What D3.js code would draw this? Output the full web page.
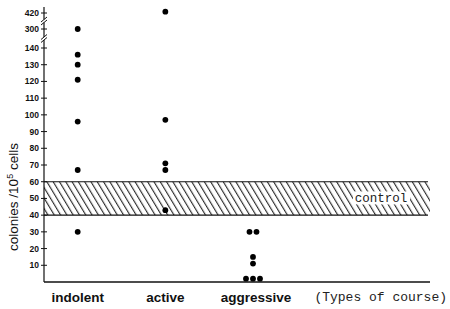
<!DOCTYPE html>
<html>
<head>
<meta charset="utf-8">
<script src="https://cdn.jsdelivr.net/npm/d3@7"></script>
<style>
  html, body { margin: 0; padding: 0; background: #fff; }
  svg { display: block; }
</style>
</head>
<body>
<svg id="chart" width="450" height="309"></svg>
<script>
// ---- data ----
const categories = ["indolent", "active", "aggressive"];
const indolentValues = [300, 136, 130, 121, 96, 67, 30];
const activeValues = [430, 97, 71, 67, 43];
const aggressiveValues = [30, 30, 15, 11, 2, 2, 2];
const tickValues = [10, 20, 30, 40, 50, 60, 70, 80, 90, 100, 110, 120, 130, 140, 300, 420];
const breakValues = [220, 360];
const controlRange = [40, 60];
const controlLabel = "control";
const yAxisLabel = "colonies /10";
const xAxisTitle = "(Types of course)";

const seriesByCategory = {
  indolent: indolentValues,
  active: activeValues,
  aggressive: aggressiveValues
};

// ---- layout ----
const svg = d3.select("#chart");
const axisX = 44, rightX = 430;
const y = d3.scaleLinear().domain([0, 140, 300, 420]).range([282, 48, 29, 13]);
const x = d3.scalePoint().domain(categories).range([77.7, 253]);

// hatch pattern
const defs = svg.append("defs");
const pat = defs.append("pattern")
  .attr("id", "hatch").attr("patternUnits", "userSpaceOnUse")
  .attr("width", 5.4).attr("height", 6)
  .attr("patternTransform", "rotate(-31)");
pat.append("line").attr("x1", 0.6).attr("y1", 0).attr("x2", 0.6).attr("y2", 6)
  .attr("stroke", "#1a1a1a").attr("stroke-width", 1.05);

// control band
svg.append("rect")
  .attr("x", axisX).attr("y", y(controlRange[1]))
  .attr("width", rightX - axisX).attr("height", y(controlRange[0]) - y(controlRange[1]))
  .attr("fill", "url(#hatch)");
controlRange.forEach(v => {
  svg.append("line").attr("x1", axisX).attr("x2", rightX - 2)
    .attr("y1", y(v)).attr("y2", y(v))
    .attr("stroke", "#111").attr("stroke-width", 1.1);
});
// control label
const cy = y(d3.mean(controlRange));
svg.append("rect").attr("x", 353).attr("y", cy - 7).attr("width", 57).attr("height", 13).attr("fill", "#fff");
svg.append("text").attr("x", 381).attr("y", cy + 3.5)
  .attr("text-anchor", "middle")
  .style("font-family", "'Liberation Mono', 'DejaVu Sans Mono', monospace")
  .style("font-size", "12.5px").attr("fill", "#222")
  .text(controlLabel);

// baseline
svg.append("line").attr("x1", axisX).attr("x2", rightX)
  .attr("y1", y(0)).attr("y2", y(0))
  .attr("stroke", "#111").attr("stroke-width", 1.3);

// y axis line
svg.append("line").attr("x1", axisX).attr("x2", axisX)
  .attr("y1", y(0)).attr("y2", 7)
  .attr("stroke", "#111").attr("stroke-width", 1.2);

// ticks
const tg = svg.append("g");
tickValues.forEach(v => {
  tg.append("line").attr("x1", axisX - 3).attr("x2", axisX + 3)
    .attr("y1", y(v)).attr("y2", y(v))
    .attr("stroke", "#111").attr("stroke-width", 1);
  tg.append("text").attr("x", axisX - 5).attr("y", y(v) + 3)
    .attr("text-anchor", "end")
    .style("font-family", "'Liberation Sans Narrow', 'Liberation Sans', Arial, sans-serif")
    .style("font-size", "8.5px").style("font-weight", "bold").attr("fill", "#111")
    .text(v);
});

// axis breaks
breakValues.forEach(v => {
  const yy = y(v);
  svg.append("rect").attr("x", axisX - 1.5).attr("y", yy - 1.5).attr("width", 3).attr("height", 3).attr("fill", "#fff");
  [-1.5, 1.5].forEach(o => {
    svg.append("line").attr("x1", axisX - 3).attr("x2", axisX + 3)
      .attr("y1", yy + o + 2.5).attr("y2", yy + o - 2.5)
      .attr("stroke", "#111").attr("stroke-width", 1);
  });
});

// points, spreading equal values horizontally
const points = [];
categories.forEach(c => {
  const groups = d3.group(seriesByCategory[c], v => v);
  groups.forEach((vals, v) => {
    vals.forEach((_, i) => points.push({ c, v, off: (i - (vals.length - 1) / 2) * 7 }));
  });
});
svg.append("g").selectAll("circle").data(points).join("circle")
  .attr("cx", d => x(d.c) + d.off)
  .attr("cy", d => y(d.v))
  .attr("r", 2.9)
  .attr("fill", "#000");

// category labels
svg.append("g").selectAll("text").data(categories).join("text")
  .attr("x", d => x(d) + (d === "aggressive" ? 3 : 0))
  .attr("y", 302)
  .attr("text-anchor", "middle")
  .style("font-family", "'Liberation Sans', Arial, sans-serif")
  .style("font-size", "13.5px").style("font-weight", "bold").attr("fill", "#111")
  .text(d => d);

// x axis title
svg.append("text").attr("x", 447).attr("y", 301)
  .attr("text-anchor", "end")
  .style("font-family", "'Liberation Mono', 'DejaVu Sans Mono', monospace")
  .style("font-size", "13px").attr("fill", "#222")
  .text(xAxisTitle);

// y axis label
const yl = svg.append("text")
  .attr("transform", "translate(18,197) rotate(-90)")
  .attr("text-anchor", "middle")
  .style("font-family", "'Liberation Sans', Arial, sans-serif")
  .style("font-size", "13.5px").attr("fill", "#111");
yl.append("tspan").text(yAxisLabel);
yl.append("tspan").attr("dy", -5).style("font-size", "9px").text("5");
yl.append("tspan").attr("dy", 5).text(" cells");
</script>
</body>
</html>
